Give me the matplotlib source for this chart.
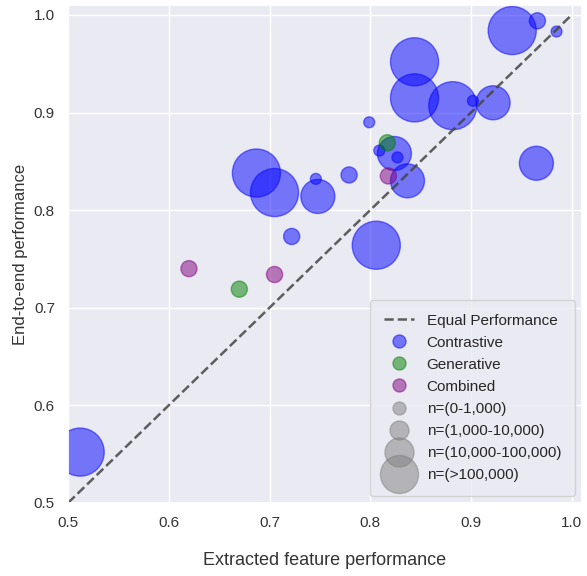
import numpy as np
import matplotlib
matplotlib.use("Agg")
import matplotlib.pyplot as plt
from matplotlib.lines import Line2D
import seaborn as sns

sns.set_theme(style="darkgrid")
plt.rcParams['font.family'] = ['Liberation Sans', 'DejaVu Sans']

# Dados: desempenho com features extraídas vs end-to-end
# tamanho: 0 = n(0-1,000), 1 = n(1,000-10,000), 2 = n(10,000-100,000), 3 = n(>100,000)
contr_x = [0.512, 0.941, 0.966, 0.985, 0.844, 0.844, 0.882, 0.902, 0.922, 0.799,
           0.809, 0.824, 0.827, 0.837, 0.965, 0.687, 0.705, 0.746, 0.748, 0.779,
           0.722, 0.806]
contr_y = [0.552, 0.984, 0.994, 0.983, 0.952, 0.915, 0.907, 0.912, 0.910, 0.890,
           0.861, 0.858, 0.854, 0.830, 0.848, 0.838, 0.818, 0.832, 0.814, 0.836,
           0.773, 0.764]
contr_n = [3, 3, 1, 0, 3, 3, 3, 0, 2, 0,
           0, 2, 0, 2, 2, 3, 3, 0, 2, 1,
           1, 3]

gen_x = [0.817, 0.670]
gen_y = [0.869, 0.719]
gen_n = [1, 1]

comb_x = [0.818, 0.620, 0.705]
comb_y = [0.835, 0.740, 0.734]
comb_n = [1, 1, 1]

size_labels = ['n=(0-1,000)', 'n=(1,000-10,000)', 'n=(10,000-100,000)', 'n=(>100,000)']
plot_sizes = [62, 135, 600, 1200]      # area em pt^2 no gráfico
legend_ms = [9.4, 13.7, 20.9, 27.4]    # diâmetro em pt na legenda

fig = plt.figure(figsize=(5.87, 5.76), dpi=100)
ax = fig.add_axes([0.116, 0.127, 0.875, 0.864])

ax.plot([0.5, 1.0], [0.5, 1.0], ls='--', color='#444444', lw=1.8, alpha=0.85)

for xs, ys, ns, cor in [(contr_x, contr_y, contr_n, 'blue'),
                        (gen_x, gen_y, gen_n, 'green'),
                        (comb_x, comb_y, comb_n, 'purple')]:
    s = [plot_sizes[k] for k in ns]
    ax.scatter(xs, ys, s=s, color=cor, alpha=0.5, linewidths=1)

ax.set_xlim(0.5, 1.01)
ax.set_ylim(0.5, 1.01)
ax.set_xticks([0.5, 0.6, 0.7, 0.8, 0.9, 1.0])
ax.set_yticks([0.5, 0.6, 0.7, 0.8, 0.9, 1.0])
ax.tick_params(labelsize=11, colors='#333333')
ax.set_xlabel('Extracted feature performance', fontsize=13, color='#333333', labelpad=16)
ax.set_ylabel('End-to-end performance', fontsize=12, color='#333333', labelpad=4)

# Legenda montada à mão
handles = [Line2D([], [], ls='--', color='#444444', lw=1.8, alpha=0.85)]
labels = ['Equal Performance']
for nome, cor in [('Contrastive', 'blue'), ('Generative', 'green'), ('Combined', 'purple')]:
    handles.append(Line2D([], [], ls='', marker='o', ms=9.4, color=cor, alpha=0.5))
    labels.append(nome)
for lab, ms in zip(size_labels, legend_ms):
    handles.append(Line2D([], [], ls='', marker='o', ms=ms, color='gray', alpha=0.5))
    labels.append(lab)

ax.legend(handles, labels, loc='lower right', fontsize=11, labelspacing=0.53,
          borderpad=0.9, borderaxespad=0.45, handlelength=2.0, handletextpad=0.8,
          frameon=True)

fig.savefig('out.png', dpi=100)
